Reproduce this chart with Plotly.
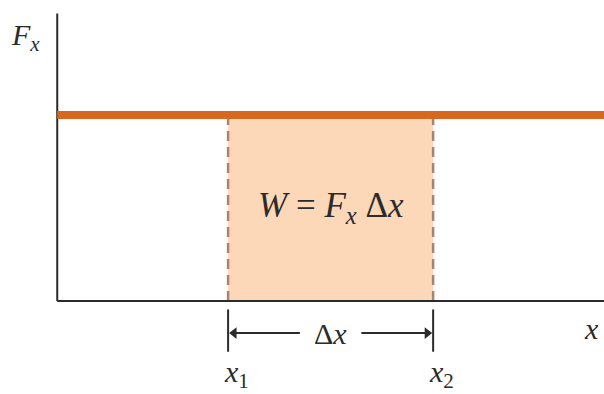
import plotly.graph_objects as go

# Constant force acting over a displacement from x1 to x2
force_level = 2.2          # F_x (constant)
x_start = 2.0              # x1
x_end = 4.4                # x2
x_axis_max = 6.45
y_axis_max = 3.4

orange = "#d8681f"
fill = "#fcd7b8"
ink = "#2b2b2b"
serif = "Liberation Serif, Times New Roman, serif"

fig = go.Figure()

# Shaded work area under the force line
fig.add_trace(go.Scatter(
    x=[x_start, x_end, x_end, x_start, x_start],
    y=[0, 0, force_level, force_level, 0],
    fill="toself", fillcolor=fill, line=dict(width=0),
    mode="lines", hoverinfo="skip", showlegend=False))

# Dashed edges of the area
for xv in (x_start, x_end):
    fig.add_trace(go.Scatter(
        x=[xv, xv], y=[0, force_level], mode="lines",
        line=dict(color="#a88472", width=2.5, dash="10px,6px"),
        hoverinfo="skip", showlegend=False))

# Axes
fig.add_trace(go.Scatter(x=[0, 0], y=[0, y_axis_max], mode="lines",
                         line=dict(color=ink, width=2), showlegend=False, hoverinfo="skip"))
fig.add_trace(go.Scatter(x=[0, x_axis_max], y=[0, 0], mode="lines",
                         line=dict(color=ink, width=2.2), showlegend=False, hoverinfo="skip"))

# Constant force line
fig.add_trace(go.Scatter(x=[0, x_axis_max], y=[force_level, force_level], mode="lines",
                         line=dict(color=orange, width=8), showlegend=False, hoverinfo="skip"))

# Displacement bracket below the axis
tick_top, tick_bot, arrow_y = -0.1, -0.6, -0.38
for xv in (x_start, x_end):
    fig.add_trace(go.Scatter(x=[xv, xv], y=[tick_top, tick_bot], mode="lines",
                             line=dict(color=ink, width=2), showlegend=False, hoverinfo="skip"))

mid = (x_start + x_end) / 2
gap = 0.36
for head, tail, sym in ((x_start + 0.07, mid - gap, "triangle-left"),
                        (x_end - 0.07, mid + gap, "triangle-right")):
    fig.add_trace(go.Scatter(x=[tail, head], y=[arrow_y, arrow_y], mode="lines",
                             line=dict(color=ink, width=2), showlegend=False, hoverinfo="skip"))
    fig.add_trace(go.Scatter(x=[head], y=[arrow_y], mode="markers",
                             marker=dict(symbol=sym, size=10, color=ink),
                             showlegend=False, hoverinfo="skip"))

text_style = dict(family=serif, size=30, color=ink)
fig.add_annotation(x=mid, y=arrow_y, text="Δ<i>x</i>", showarrow=False, font=text_style)
fig.add_annotation(x=x_start + 0.1, y=-0.86, text="<i>x</i><sub>1</sub>", showarrow=False, font=text_style)
fig.add_annotation(x=x_end + 0.1, y=-0.86, text="<i>x</i><sub>2</sub>", showarrow=False, font=text_style)
fig.add_annotation(x=6.25, y=-0.33, text="<i>x</i>", showarrow=False, font=text_style)
fig.add_annotation(x=-0.37, y=3.12, text="<i>F</i><sub><i>x</i></sub>", showarrow=False, font=text_style)
fig.add_annotation(x=mid, y=1.1, text="<i>W</i> = <i>F</i><sub><i>x</i></sub> Δ<i>x</i>",
                   showarrow=False, font=dict(family=serif, size=35, color=ink))

fig.update_layout(
    width=604, height=394,
    margin=dict(l=0, r=0, t=0, b=0),
    font=dict(family=serif, size=30, color=ink),
    paper_bgcolor="white", plot_bgcolor="white",
    xaxis=dict(range=[-0.67, 6.4], visible=False, fixedrange=True),
    yaxis=dict(range=[-1.1, 3.56], visible=False, fixedrange=True),
    showlegend=False,
)

fig.write_html("out.html")
